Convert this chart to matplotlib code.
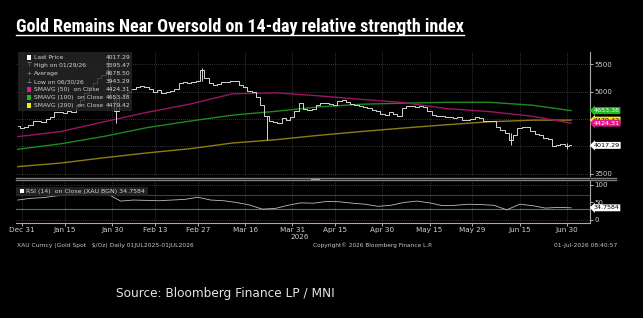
import matplotlib
matplotlib.use('Agg')
import matplotlib.pyplot as plt
import matplotlib.transforms as mtransforms
from matplotlib.patches import Rectangle
from matplotlib.lines import Line2D
import numpy as np
import pandas as pd

W, H = 643, 318

# Trading days on the chart (Jan 1 and Good Friday are not plotted)
holidays = ['2026-01-01', '2026-04-03']
dates = pd.bdate_range('2025-12-30', '2026-07-01')
dates = dates[~dates.isin(pd.to_datetime(holidays))]

# Daily closes, XAU spot
closes = [4370, 4330, 4350, 4390, 4460, 4470, 4450, 4500, 4540, 4620,
          4630, 4610, 4640, 4620, 4750, 4850, 4980, 5080, 5150, 5250,
          5300, 5400, 4900, 4650, 4900, 4950, 5000, 5050, 5080, 5100,
          5090, 5050, 4990, 5030, 4980, 5000, 5020, 5040, 5150, 5170,
          5160, 5180, 5200, 5400, 5250, 5150, 5130, 5140, 5170, 5180,
          5200, 5190, 5130, 5080, 5010, 5000, 4900, 4750, 4550, 4470,
          4450, 4430, 4520, 4480, 4530, 4640, 4790, 4680, 4670, 4690,
          4760, 4790, 4800, 4770, 4760, 4830, 4840, 4820, 4770, 4760,
          4730, 4720, 4700, 4660, 4650, 4600, 4580, 4620, 4600, 4560,
          4700, 4740, 4740, 4720, 4730, 4720, 4650, 4580, 4550, 4550,
          4540, 4540, 4520, 4540, 4480, 4480, 4500, 4540, 4510, 4460,
          4460, 4470, 4350, 4300, 4240, 4110, 4200, 4330, 4360, 4350,
          4280, 4230, 4200, 4160, 4130, 4010, 4020, 4040, 4000, 4017.29]

# Days with long intraday ranges
wick_dates = ['2026-01-29', '2026-02-02', '2026-03-02', '2026-03-23', '2026-06-11', '2026-06-30']
wick_low = [5250, 4420, 5200, 4120, 4020, 3943.29]
wick_high = [5595.47, 4975, 5430, 4560, 4250, 4060]

# Moving averages sampled every 10 trading days
ma_dates = ['2025-12-30', '2026-01-14', '2026-01-28', '2026-02-11', '2026-02-25',
            '2026-03-11', '2026-03-25', '2026-04-09', '2026-04-23', '2026-05-07',
            '2026-05-21', '2026-06-04', '2026-06-18', '2026-07-01']
sma50 = [4177, 4270, 4447, 4620, 4770, 4960, 4980, 4925, 4860, 4800, 4690, 4635, 4550, 4424.31]
sma100 = [3946, 4046, 4180, 4340, 4460, 4570, 4640, 4720, 4770, 4790, 4806, 4806, 4752, 4653.38]
sma200 = [3628, 3694, 3790, 3878, 3955, 4060, 4120, 4200, 4270, 4335, 4395, 4450, 4478, 4479.42]

# RSI(14), every 3rd trading day
rsi = [57, 62, 64, 69, 72, 76, 79, 74, 54, 57, 56, 55, 57, 59, 65, 57, 55, 50, 43, 31,
       33, 42, 49, 48, 53, 52, 48, 45, 39, 42, 50, 54, 49, 41, 42, 45, 44, 42, 29, 45,
       41, 34, 36, 34.7584]

tick_dates = ['2025-12-31', '2026-01-15', '2026-01-30', '2026-02-13', '2026-02-27', '2026-03-16',
              '2026-03-31', '2026-04-15', '2026-04-30', '2026-05-15', '2026-05-29', '2026-06-15',
              '2026-06-30']
tick_labels = ['Dec 31', 'Jan 15', 'Jan 30', 'Feb 13', 'Feb 27', 'Mar 16', 'Mar 31',
               'Apr 15', 'Apr 30', 'May 15', 'May 29', 'Jun 15', 'Jun 30']

price_ticks = [3500, 4000, 4500, 5000, 5500]
price_tick_labels = ['3500', '', '', '5000', '5500']

legend_rows = [('Last Price', '4017.29'), ('High on 01/29/26', '5595.47'),
               ('Average', '4678.50'), ('Low on 06/30/26', '3943.29'),
               ('SMAVG (50)  on Close', '4424.31'), ('SMAVG (100)  on Close', '4653.38'),
               ('SMAVG (200)  on Close', '4479.42')]

C50, C100, C200 = '#9c1460', '#1c8a22', '#8c7d12'
TAG50, TAG100, TAG200 = '#e8148c', '#22b822', '#f2ee10'
GRID = '#666666'
TXT = '#d4d4d4'

pos = {d: i for i, d in enumerate(dates)}
def xpos(ds):
    return [pos[pd.Timestamp(d)] for d in ds]

x = np.arange(len(dates))

fig = plt.figure(figsize=(W / 100, H / 100), dpi=100, facecolor='black')
def fx(px):
    return px / W
def fy(py):
    return 1 - py / H

ax = fig.add_axes([fx(16), fy(176), fx(590) - fx(16), fy(52) - fy(176)], facecolor='black')
rx = fig.add_axes([fx(16), fy(223), fx(590) - fx(16), fy(181) - fy(223)], facecolor='black')

for a in (ax, rx):
    a.set_xlim(-0.4, 133.4)
    for s in ('left', 'top', 'bottom'):
        a.spines[s].set_visible(False)
    a.spines['right'].set_color('#a8a8a8')
    a.spines['right'].set_linewidth(0.8)
    a.yaxis.tick_right()
    a.tick_params(axis='y', colors='#d0d0d0', labelsize=5, length=2, width=0.6, pad=1)
    a.set_xticks(xpos(tick_dates))
    a.xaxis.grid(True, ls=(0, (1, 2)), color=GRID, lw=0.5)

# price panel
ax.set_ylim(3457, 5726)
ax.set_yticks(price_ticks)
ax.set_yticklabels(price_tick_labels)
ax.yaxis.grid(True, ls=(0, (1, 2)), color=GRID, lw=0.5)
ax.tick_params(axis='x', length=0, labelbottom=False)

ax.plot(xpos(ma_dates), sma200, color=C200, lw=1.0)
ax.plot(xpos(ma_dates), sma100, color=C100, lw=1.0)
ax.plot(xpos(ma_dates), sma50, color=C50, lw=1.0)
ax.plot(x, closes, color='#e2e2e2', lw=0.65, drawstyle='steps-mid')
ax.vlines(xpos(wick_dates), wick_low, wick_high, color='#e2e2e2', lw=0.65)

# value tags on the right axis (figure level so they sit over the tick labels)
tr = mtransforms.blended_transform_factory(ax.transAxes, ax.transData)
tags = [(4479.42, '4479.42', TAG200, 'black'), (4653.38, '4653.38', TAG100, 'white'),
        (4424.31, '4424.31', TAG50, 'white'), (closes[-1], '4017.29', 'white', 'black')]
for val, s, c, tc in tags:
    fig.text(1.006, val, s, transform=tr, fontsize=4.6, color=tc, va='center', ha='left',
             bbox=dict(boxstyle='larrow,pad=0.15', fc=c, ec='none'))

# RSI panel
rx.set_ylim(-8.6, 111.4)
rx.set_yticks([0, 50, 100])
rx.spines['bottom'].set_visible(True)
rx.spines['bottom'].set_color('#a8a8a8')
rx.spines['bottom'].set_linewidth(0.8)
rx.set_xticklabels(tick_labels)
rx.tick_params(axis='x', colors='#d0d0d0', labelsize=5.2, length=2, width=0.6, pad=1)
rx.axhline(0, ls=(0, (1, 2)), color=GRID, lw=0.5)
rx.axhline(100, ls=(0, (1, 2)), color=GRID, lw=0.5)
rx.axhline(70, color='#a01414', lw=0.8)
rx.axhline(30, color='#1c9c1c', lw=0.8)
rx.plot(x[::3], rsi, color='#bdbdbd', lw=0.6)
tr2 = mtransforms.blended_transform_factory(rx.transAxes, rx.transData)
fig.text(1.006, rsi[-1], '34.7584', transform=tr2, fontsize=4.6, color='black', va='center',
         ha='left', bbox=dict(boxstyle='larrow,pad=0.15', fc='white', ec='none'))

# panel separator
for yy in (177.8, 180.3):
    fig.add_artist(Line2D([fx(16), fx(616)], [fy(yy), fy(yy)], color='#7c7c7c', lw=1.0))
fig.add_artist(Rectangle((fx(311), fy(180.5)), fx(9), fy(177.5) - fy(180.5), fc='#b0b0b0', ec='none'))

# price legend
fig.add_artist(Rectangle((fx(18), fy(111)), fx(114), fy(52) - fy(111), fc='#262626', ec='none', alpha=0.82))
icons = ['sq:white', '⊤', '+', '⊥', 'sq:' + TAG50, 'sq:' + TAG100, 'sq:' + TAG200]
for k, ((label, val), ic) in enumerate(zip(legend_rows, icons)):
    yy = 57.5 + 8 * k
    if ic.startswith('sq:'):
        fig.add_artist(Rectangle((fx(27), fy(yy + 2.2)), fx(4.4), fy(yy - 2.2) - fy(yy + 2.2),
                                 fc=ic[3:], ec='none'))
    else:
        fig.text(fx(29), fy(yy), ic, color='#a0a0a0', fontsize=4.3, ha='center', va='center')
    fig.text(fx(34), fy(yy), label, color=TXT, fontsize=4.3, va='center')
    fig.text(fx(130), fy(yy), val, color=TXT, fontsize=4.3, va='center', ha='right')

# RSI legend
fig.add_artist(Rectangle((fx(16), fy(195.5)), fx(132), fy(186.5) - fy(195.5), fc='#262626', ec='none', alpha=0.85))
fig.add_artist(Rectangle((fx(20), fy(193)), fx(4), fy(189) - fy(193), fc='white', ec='none'))
fig.text(fx(26), fy(191), 'RSI (14)  on Close (XAU BGN) 34.7584', color=TXT, fontsize=4.5, va='center')

fig.text(fx(300), fy(237), '2026', color='#d0d0d0', fontsize=5.2, ha='center', va='center')

# footer and titles
def fit(t, width_px):
    r = fig.canvas.get_renderer()
    w = t.get_window_extent(r).width
    t.set_fontsize(t.get_fontsize() * width_px / w)

f1 = fig.text(fx(17), fy(245), 'XAU Curncy (Gold Spot   $/Oz) Daily 01JUL2025-01JUL2026',
              color='#c8c8c8', fontsize=4.5, va='center')
f2 = fig.text(fx(313), fy(245), 'Copyright\u00a9 2026 Bloomberg Finance L.P.',
              color='#c8c8c8', fontsize=4.5, va='center')
f3 = fig.text(fx(617), fy(245), '01-Jul-2026 08:40:57', color='#c8c8c8', fontsize=4.5,
              va='center', ha='right')
title = fig.text(fx(16), fy(32), 'Gold Remains Near Oversold on 14-day relative strength index',
                 color='white', fontsize=11, fontweight='bold', va='baseline',
                 fontstretch='condensed',
                 family=['Liberation Sans Narrow', 'DejaVu Sans Condensed', 'Roboto Condensed', 'DejaVu Sans'])
src = fig.text(fx(116), fy(293), 'Source: Bloomberg Finance LP / MNI', color='#e4e4e4',
               fontsize=7, va='center')
fig.canvas.draw()
fit(f1, 176)
fit(f2, 119)
fit(f3, 63)
fit(title, 448)
fit(src, 221)
fig.add_artist(Line2D([fx(16), fx(464)], [fy(34.6), fy(34.6)], color='white', lw=1.0))

fig.savefig('out.png', dpi=100, facecolor='black')
